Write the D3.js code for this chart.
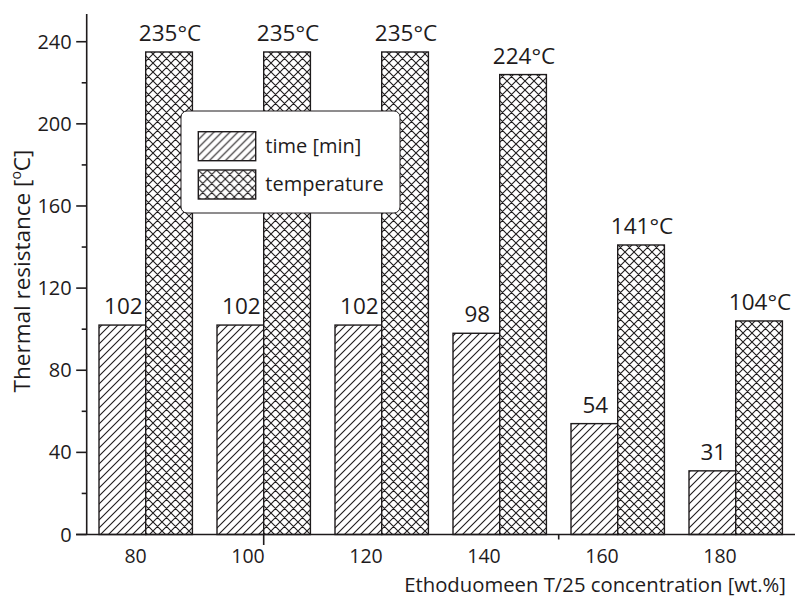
<!DOCTYPE html>
<html>
<head>
<meta charset="utf-8">
<script src="https://cdn.jsdelivr.net/npm/d3@7"></script>
<style>
  html, body { margin: 0; padding: 0; background: #fff; }
  svg { display: block; }
  text { font-family: "Open Sans", "Noto Sans", sans-serif; fill: #1e1b1c; }
</style>
</head>
<body>
<svg id="chart" width="795" height="597"></svg>
<script>
// Ethoduomeen T/25 concentration groups
const concentrations = ["80", "100", "120", "140", "160", "180"];
// Series keys and legend labels
const seriesKeys = ["time", "temperature"];
const seriesLabels = ["time [min]", "temperature"];
// Thermal resistance values
const timeValues = [102, 102, 102, 98, 54, 31];
const temperatureValues = [235, 235, 235, 224, 141, 104];
// Bar labels
const timeLabels = ["102", "102", "102", "98", "54", "31"];
const temperatureLabels = ["235°C", "235°C", "235°C", "224°C", "141°C", "104°C"];
// Y axis ticks
const yMajorTicks = [0, 40, 80, 120, 160, 200, 240];
const yMinorTicks = [20, 60, 100, 140, 180, 220];

const ink = "#1e1b1c";
const svg = d3.select("#chart");

const y = d3.scaleLinear().domain([0, 253.5]).range([534.5, 14]);
const x0 = d3.scaleBand().domain(concentrations)
  .range([86.7, 794.7]).paddingInner(0.2085).paddingOuter(0.10425);
const x1 = d3.scaleBand().domain(seriesKeys).range([0, x0.bandwidth()]);

// Hatch patterns
const defs = svg.append("defs");
const hp = 8;
const diag = defs.append("pattern").attr("id", "hatch")
  .attr("patternUnits", "userSpaceOnUse").attr("width", hp).attr("height", hp);
diag.append("rect").attr("width", hp).attr("height", hp).attr("fill", "#fff");
diag.append("path").attr("d", `M-2,2L2,-2M0,${hp}L${hp},0M${hp - 2},${hp + 2}L${hp + 2},${hp - 2}`)
  .attr("stroke", ink).attr("stroke-width", 1.1);
const cp = 9;
const cross = defs.append("pattern").attr("id", "cross")
  .attr("patternUnits", "userSpaceOnUse").attr("width", cp).attr("height", cp);
cross.append("rect").attr("width", cp).attr("height", cp).attr("fill", "#fff");
cross.append("path")
  .attr("d", `M-2,2L2,-2M0,${cp}L${cp},0M${cp - 2},${cp + 2}L${cp + 2},${cp - 2}` +
             `M-2,${cp - 2}L2,${cp + 2}M0,0L${cp},${cp}M${cp - 2},-2L${cp + 2},2`)
  .attr("stroke", ink).attr("stroke-width", 1.1);
const fills = { time: "url(#hatch)", temperature: "url(#cross)" };

const rows = concentrations.map((c, i) => ({
  c,
  time: timeValues[i], temperature: temperatureValues[i],
  labels: { time: timeLabels[i], temperature: temperatureLabels[i] }
}));

// Bars
const groups = svg.append("g").selectAll("g").data(rows).join("g")
  .attr("transform", d => `translate(${x0(d.c)},0)`);
groups.selectAll("rect").data(d => seriesKeys.map(k => ({ k, v: d[k], label: d.labels[k] })))
  .join("rect")
  .attr("x", d => x1(d.k))
  .attr("y", d => y(d.v))
  .attr("width", x1.bandwidth())
  .attr("height", d => y(0) - y(d.v))
  .attr("fill", d => fills[d.k])
  .attr("stroke", ink).attr("stroke-width", 1.4);
groups.selectAll("text").data(d => seriesKeys.map(k => ({ k, v: d[k], label: d.labels[k] })))
  .join("text")
  .attr("x", d => x1(d.k) + x1.bandwidth() / 2 + 1)
  .attr("y", d => y(d.v) - 11)
  .attr("text-anchor", "middle")
  .attr("font-size", 22.5)
  .text(d => d.label);

// Y axis
const yAxisG = svg.append("g").attr("transform", "translate(86.7,0)");
yAxisG.append("line").attr("y1", y(0)).attr("y2", y.range()[1])
  .attr("stroke", ink).attr("stroke-width", 1.6);
yAxisG.selectAll("line.major").data(yMajorTicks).join("line").attr("class", "major")
  .attr("x1", -10.5).attr("x2", 0).attr("y1", d => y(d)).attr("y2", d => y(d))
  .attr("stroke", ink).attr("stroke-width", 1.6);
yAxisG.selectAll("line.minor").data(yMinorTicks).join("line").attr("class", "minor")
  .attr("x1", -5).attr("x2", 0).attr("y1", d => y(d)).attr("y2", d => y(d))
  .attr("stroke", ink).attr("stroke-width", 1.6);
yAxisG.selectAll("text").data(yMajorTicks).join("text")
  .attr("x", -15).attr("y", d => y(d)).attr("dy", "0.35em")
  .attr("text-anchor", "end").attr("font-size", 20)
  .text(d => d);

// X axis
const xAxisG = svg.append("g").attr("transform", `translate(0,${y(0)})`);
xAxisG.append("line").attr("x1", 76).attr("x2", 795)
  .attr("stroke", ink).attr("stroke-width", 1.6);
const groupCenter = c => x0(c) + x0.bandwidth() / 2;
xAxisG.append("line")
  .attr("x1", groupCenter("100")).attr("x2", groupCenter("100"))
  .attr("y1", 0).attr("y2", 10.5).attr("stroke", ink).attr("stroke-width", 1.6);
const midTick = (groupCenter("140") + groupCenter("160")) / 2;
xAxisG.append("line").attr("x1", midTick).attr("x2", midTick)
  .attr("y1", 0).attr("y2", 5).attr("stroke", ink).attr("stroke-width", 1.6);
xAxisG.selectAll("text").data(concentrations).join("text")
  .attr("x", d => groupCenter(d) + 1).attr("y", 28.5)
  .attr("text-anchor", "end").attr("font-size", 19.5)
  .text(d => d);

// Axis titles
svg.append("text").attr("x", 786).attr("y", 591.5)
  .attr("text-anchor", "end").attr("font-size", 20.3)
  .text("Ethoduomeen T/25 concentration [wt.%]");
const yTitle = svg.append("text")
  .attr("transform", "translate(30,271) rotate(-90)")
  .attr("text-anchor", "middle").attr("font-size", 22.5);
yTitle.append("tspan").text("Thermal resistance [");
yTitle.append("tspan").attr("baseline-shift", "super").attr("font-size", 14).text("o");
yTitle.append("tspan").text("C]");

// Legend
const legend = svg.append("g");
legend.append("rect").attr("x", 181).attr("y", 111).attr("width", 219).attr("height", 102)
  .attr("rx", 6).attr("fill", "#fff").attr("stroke", ink).attr("stroke-width", 1);
const items = legend.selectAll("g").data(seriesKeys).join("g")
  .attr("transform", (d, i) => `translate(198.3,${131.7 + i * 38.3})`);
items.append("rect").attr("width", 57.4).attr("height", 29)
  .attr("fill", d => fills[d]).attr("stroke", ink).attr("stroke-width", 1.4);
items.append("text").attr("x", 67).attr("y", 21).attr("font-size", 20)
  .text((d, i) => seriesLabels[i]);
</script>
</body>
</html>
